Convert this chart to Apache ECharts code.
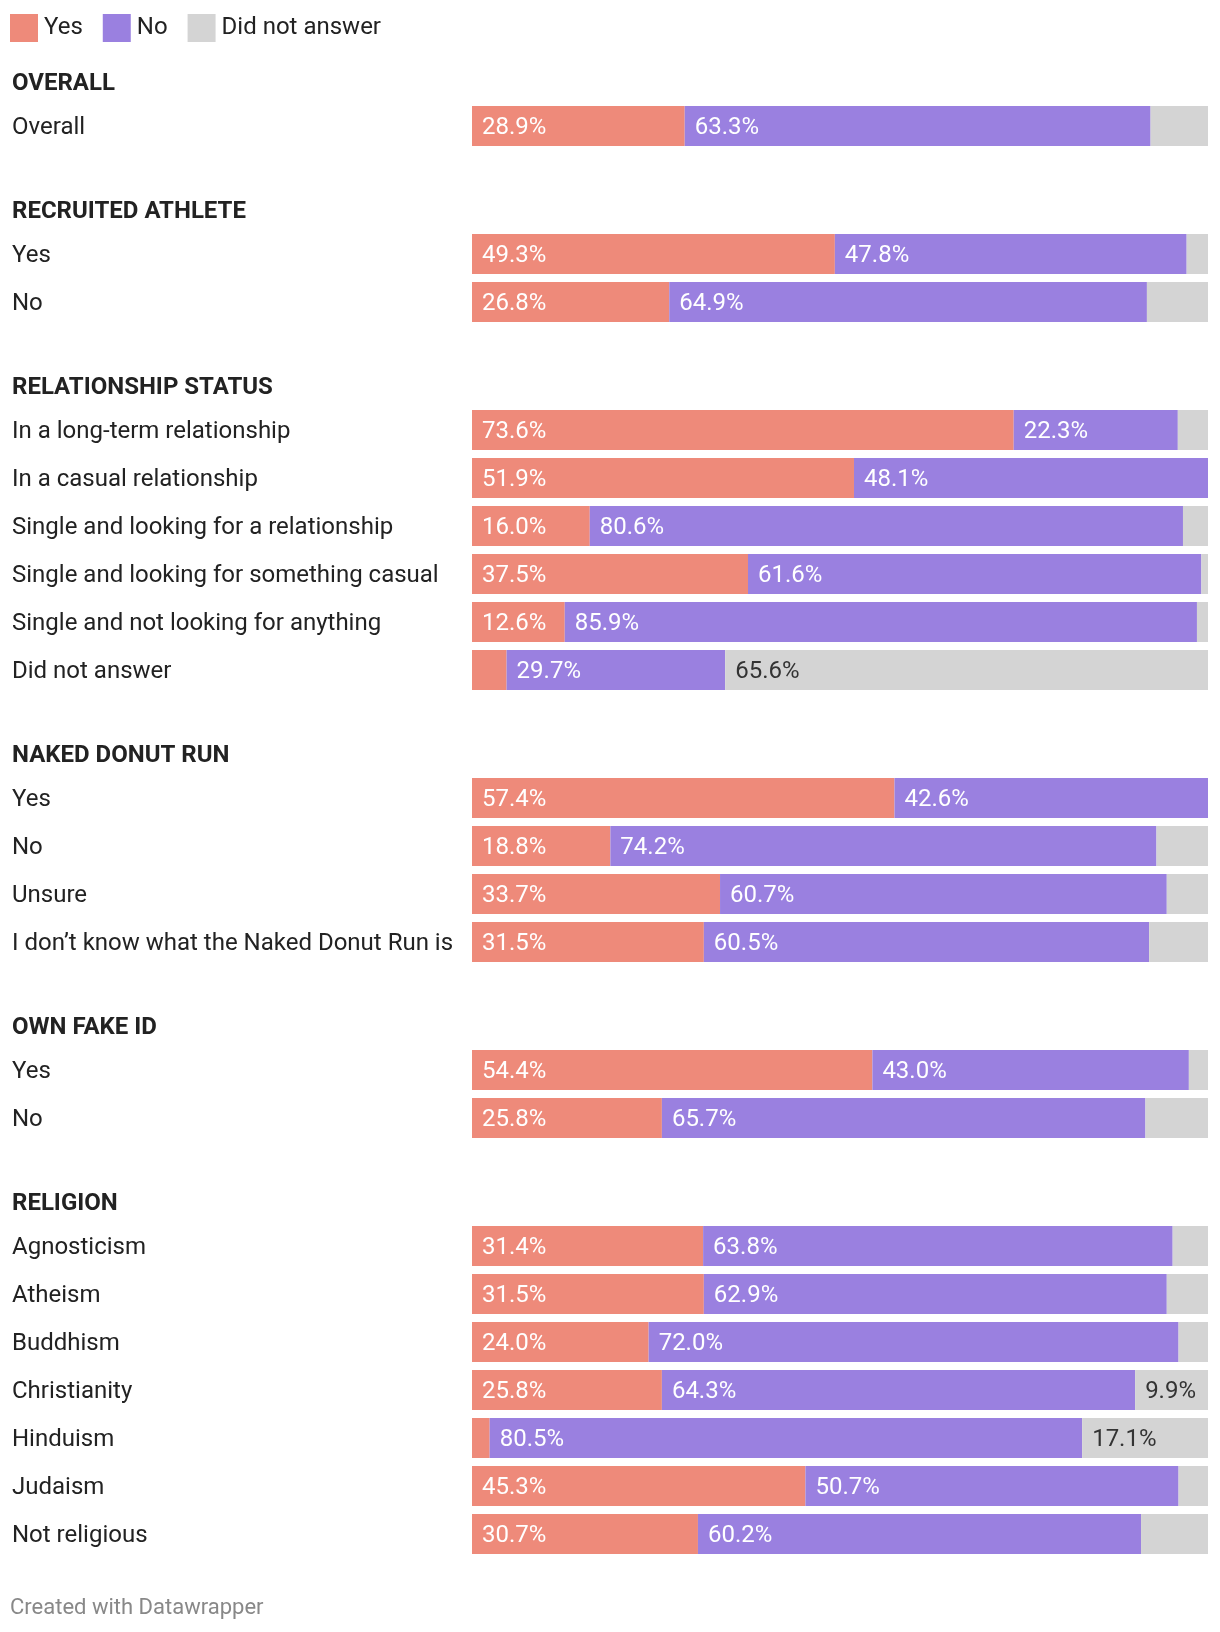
<!DOCTYPE html>
<html><head><meta charset="utf-8">
<script src="https://cdn.jsdelivr.net/npm/echarts@6/dist/echarts.min.js"></script>
<style>html,body{margin:0;padding:0;background:#fff}#c{width:1220px;height:1632px}</style>
</head><body><div id="c"></div>
<script>
const sectionTitles = ["OVERALL","RECRUITED ATHLETE","RELATIONSHIP STATUS","NAKED DONUT RUN","OWN FAKE ID","RELIGION"];
const sectionCategories = [
  ["Overall"],
  ["Yes","No"],
  ["In a long-term relationship","In a casual relationship","Single and looking for a relationship","Single and looking for something casual","Single and not looking for anything","Did not answer"],
  ["Yes","No","Unsure","I don\u2019t know what the Naked Donut Run is"],
  ["Yes","No"],
  ["Agnosticism","Atheism","Buddhism","Christianity","Hinduism","Judaism","Not religious"]
];
const yesValues = [
  [28.9],
  [49.3,26.8],
  [73.6,51.9,16.0,37.5,12.6,4.7],
  [57.4,18.8,33.7,31.5],
  [54.4,25.8],
  [31.4,31.5,24.0,25.8,2.4,45.3,30.7]
];
const noValues = [
  [63.3],
  [47.8,64.9],
  [22.3,48.1,80.6,61.6,85.9,29.7],
  [42.6,74.2,60.7,60.5],
  [43.0,65.7],
  [63.8,62.9,72.0,64.3,80.5,50.7,60.2]
];
const didNotAnswerValues = [
  [7.8],
  [2.9,8.3],
  [4.1,0,3.4,0.9,1.5,65.6],
  [0,7.0,5.6,8.0],
  [2.6,8.5],
  [4.8,5.6,4.0,9.9,17.1,4.0,9.1]
];
const seriesNames = ["Yes","No","Did not answer"];
const colors = ["#ee8a7a","#9a80e0","#d4d4d4"];

const FONT = "Roboto";
const FS = 24;
const ROW = 48, BAR = 40, HEADER_TO_ROW = 45, ROW_TO_HEADER = 83, FIRST_HEADER = 81;
const LEFT = 472, RIGHT = 12;
const TEXT_NUDGE = 2; // px downward shift for row texts

const grids = [], xAxes = [], yAxes = [], series = [], graphics = [];
let headerY = FIRST_HEADER;
sectionTitles.forEach((title, i) => {
  const n = sectionCategories[i].length;
  const firstRow = headerY + HEADER_TO_ROW;
  graphics.push({type:'text', x: 12, y: headerY + 3,
    style:{text:title, font:`bold ${FS}px ${FONT}`, fill:'#222', verticalAlign:'middle'}});
  grids.push({left: LEFT, right: RIGHT, top: firstRow - ROW/2, height: n*ROW, containLabel:false});
  xAxes.push({gridIndex:i, type:'value', min:0, max:100, show:false});
  yAxes.push({gridIndex:i, type:'category', inverse:true, data: sectionCategories[i],
    axisLine:{show:false}, axisTick:{show:false}, splitLine:{show:false},
    axisLabel:{align:'left', verticalAlign:'middle', margin: LEFT-12,
      formatter: v => '{a|' + v + '}',
      rich:{a:{color:'#222', fontSize:FS, fontFamily:FONT, padding:[TEXT_NUDGE*2,0,0,0]}}}});
  const vals = [yesValues[i], noValues[i], didNotAnswerValues[i]];
  vals.forEach((arr, k) => {
    series.push({
      name: seriesNames[k], type:'bar', stack:'s'+i, xAxisIndex:i, yAxisIndex:i,
      barWidth: BAR, data: arr, itemStyle:{color: colors[k]},
      emphasis:{disabled:true}, animation:false,
      label:{show:true, position:'insideLeft', distance:10, fontSize:FS, fontFamily:FONT,
        color: k===2 ? '#333' : '#fff', offset:[0, TEXT_NUDGE],
        formatter: p => p.value >= 9.5 ? p.value.toFixed(1) + '%' : ''}
    });
  });
  headerY = firstRow + (n-1)*ROW + ROW_TO_HEADER;
});
graphics.push({type:'text', x: 10, y: 1608,
  style:{text:'Created with Datawrapper', font:`22px ${FONT}`, fill:'#888', verticalAlign:'middle'}});

const chart = echarts.init(document.getElementById('c'), null, {renderer:'canvas'});
chart.setOption({
  animation:false,
  color: colors,
  legend:{left:5, top:9, itemWidth:28, itemHeight:28, itemGap:20, icon:'rect',
    data: seriesNames, selectedMode:false,
    textStyle:{fontSize:FS, fontFamily:FONT, color:'#222', padding:[0,0,0,1]}},
  grid: grids, xAxis: xAxes, yAxis: yAxes, series: series, graphic: graphics
});
</script></body></html>
